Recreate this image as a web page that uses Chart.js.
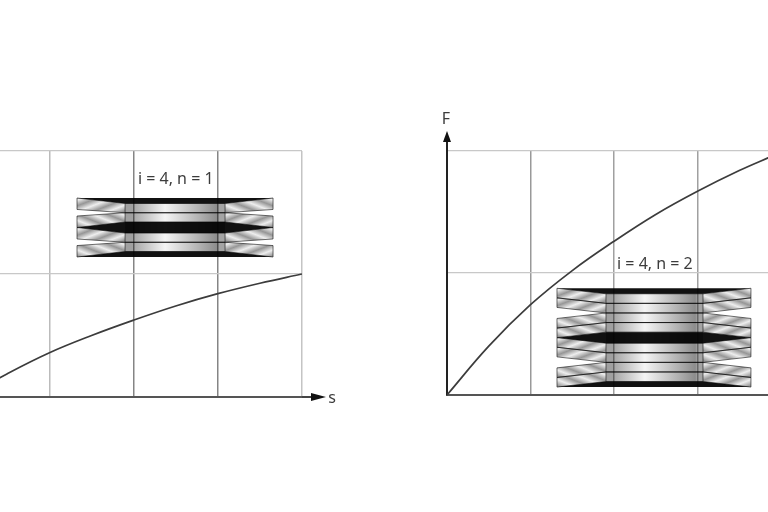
<!DOCTYPE html>
<html><head><meta charset="utf-8">
<script src="https://cdn.jsdelivr.net/npm/chart.js@4/dist/chart.umd.js"></script>
<style>
html,body{margin:0;padding:0;background:#fff;width:768px;height:512px;overflow:hidden}
canvas{position:absolute;filter:blur(0.6px)}
</style></head><body>
<div style="position:absolute;left:-50px;top:100px;width:420px;height:320px"><canvas id="a" style="left:0;top:0"></canvas></div>
<div style="position:absolute;left:400px;top:100px;width:400px;height:320px"><canvas id="b" style="left:0;top:0"></canvas></div>
<script>
const leftS  = [0, 0.5, 1, 1.5, 2, 2.5, 3, 3.5, 4];
const leftF  = [0, 0.19, 0.36, 0.5, 0.625, 0.74, 0.84, 0.925, 1];
const rightS = [0, 0.5, 1, 1.5, 2, 2.5, 3, 3.5, 3.9];
const rightF = [0, 0.4, 0.74, 1.02, 1.26, 1.48, 1.67, 1.84, 1.96];
const leftLabel = 'i = 4, n = 1';
const rightLabel = 'i = 4, n = 2';
const xAxisName = 's';
const yAxisName = 'F';

const FONT = '"Noto Sans", sans-serif';
const leftStack  = {n:1, x0:1.327, x1:3.656, h0:1.898, h1:3.086, y0:1.618, y1:1.138, rise:0.0447, flare:0.018};
const rightStack = {n:2, x0:1.317, x1:3.64, h0:1.904, h1:3.066, y0:0.875, y1:0.065, rise:0.0451, flare:0};

function stripes(ctx, x, y, dir){
  const L = 110, dx = 0.36*dir*L, dy = -0.93*L;
  const g = ctx.createLinearGradient(x, y+55, x+dx, y+55+dy);
  const N = 10;
  for(let i=0;i<N;i++){
    g.addColorStop(i/N, '#969696');
    g.addColorStop((i+0.5)/N, '#eeeeee');
  }
  g.addColorStop(1,'#969696');
  return g;
}
function poly(ctx, pts){
  ctx.beginPath();
  pts.forEach((p,i)=> i?ctx.lineTo(p[0],p[1]):ctx.moveTo(p[0],p[1]));
  ctx.closePath();
}
function drawStack(chart, cfg){
  const {ctx, scales:{x,y}} = chart;
  const X0=x.getPixelForValue(cfg.x0), X1=x.getPixelForValue(cfg.x1);
  const H0=x.getPixelForValue(cfg.h0), H1=x.getPixelForValue(cfg.h1);
  const T=y.getPixelForValue(cfg.y0), B=y.getPixelForValue(cfg.y1);
  const unit=y.getPixelForValue(0)-y.getPixelForValue(1);
  const c=cfg.rise*unit, e=cfg.flare*unit;
  const n=cfg.n, t=((B-T)/4-c)/n;
  ctx.save();
  ctx.globalCompositeOperation='multiply';
  const hub=ctx.createLinearGradient(H0,0,H1,0);
  hub.addColorStop(0,'#a0a0a0');hub.addColorStop(0.07,'#a0a0a0');hub.addColorStop(0.09,'#a8a8a8');
  hub.addColorStop(0.4,'#f4f4f4');hub.addColorStop(0.75,'#b0b0b0');hub.addColorStop(0.92,'#8c8c8c');hub.addColorStop(0.94,'#a4a4a4');hub.addColorStop(1,'#a4a4a4');
  ctx.fillStyle=hub;
  ctx.fillRect(H0,T+c,H1-H0,B-T-2*c);
  ctx.lineWidth=1;
  for(let k=0;k<4;k++){
    const base=T+k*(n*t+c);
    const slopeDown=k%2===0;
    for(let j=0;j<n;j++){
      const o=(slopeDown? base : base+c)+j*t;
      const h=(slopeDown? base+c : base)+j*t;
      const oTop=slopeDown? o : o-e, oBot=slopeDown? o+t+e : o+t;
      [[X0,H0,1],[X1,H1,-1]].forEach(([E,I,sd])=>{
        poly(ctx,[[E,oTop],[I,h],[I,h+t],[E,oBot]]);
        ctx.fillStyle=stripes(ctx,E,o,(slopeDown?-1:1)*sd);
        ctx.fill();
        ctx.strokeStyle='#707070';
        ctx.stroke();
      });
      ctx.strokeStyle='#555';
      ctx.beginPath();ctx.moveTo(H0,h);ctx.lineTo(H1,h);ctx.moveTo(H0,h+t);ctx.lineTo(H1,h+t);ctx.stroke();
    }
  }
  ctx.fillStyle='#111';
  poly(ctx,[[X0,T],[X1,T],[H1,T+c],[H0,T+c]]);ctx.fill();
  poly(ctx,[[X0,B],[X1,B],[H1,B-c],[H0,B-c]]);ctx.fill();
  const M=(T+B)/2;
  poly(ctx,[[X0,M],[H0,M-c],[H1,M-c],[X1,M],[H1,M+c],[H0,M+c]]);ctx.fill();
  ctx.restore();
}
function springPlugin(cfg, label, labelX, labelY){
  return {
    id:'spring',
    beforeDatasetsDraw(chart){
      drawStack(chart,cfg);
      const {ctx,scales:{x,y}}=chart;
      ctx.save();
      ctx.font='16px '+FONT;ctx.fillStyle='#3c3c3c';ctx.textAlign='center';ctx.textBaseline='middle';
      ctx.fillText(label,x.getPixelForValue(labelX),y.getPixelForValue(labelY));
      ctx.restore();
    }
  };
}
const arrowX={id:'arrowX',afterDraw(chart){
  const {ctx,chartArea:a}=chart;
  ctx.save();
  ctx.strokeStyle='#444';ctx.lineWidth=2;
  ctx.beginPath();ctx.moveTo(a.right,a.bottom);ctx.lineTo(a.right+10,a.bottom);ctx.stroke();
  ctx.fillStyle='#111';
  poly(ctx,[[a.right+9,a.bottom-4],[a.right+24,a.bottom],[a.right+9,a.bottom+4]]);ctx.fill();
  ctx.font='16px '+FONT;ctx.fillStyle='#3c3c3c';ctx.textAlign='center';ctx.textBaseline='middle';
  ctx.fillText(xAxisName,a.right+30,a.bottom+1);
  ctx.restore();
}};
const arrowY={id:'arrowY',afterDraw(chart){
  const {ctx,chartArea:a}=chart;
  ctx.save();
  ctx.strokeStyle='#222';ctx.lineWidth=2;
  ctx.beginPath();ctx.moveTo(a.left,a.top);ctx.lineTo(a.left,a.top-9);ctx.stroke();
  ctx.fillStyle='#111';
  poly(ctx,[[a.left-4,a.top-9],[a.left,a.top-20],[a.left+4,a.top-9]]);ctx.fill();
  ctx.font='16px '+FONT;ctx.fillStyle='#3c3c3c';ctx.textAlign='center';ctx.textBaseline='middle';
  ctx.fillText(yAxisName,a.left-1,a.top-32);
  ctx.restore();
}};
function make(id,w,h,S,F,pad,xColors,yBorder,plugins){
  const c=document.getElementById(id);
  c.width=w;c.height=h;c.style.width=w+'px';c.style.height=h+'px';
  return new Chart(c,{
    type:'line',
    data:{datasets:[{data:S.map((s,i)=>({x:s,y:F[i]})),borderColor:'#3c3c3c',borderWidth:1.7,pointRadius:0,tension:0.4,fill:false}]},
    options:{
      responsive:false,animation:false,
      layout:{padding:pad},
      plugins:{legend:{display:false},tooltip:{enabled:false},title:{display:false}},
      scales:{
        x:{type:'linear',min:0,max:4,
          ticks:{display:false,stepSize:1},
          grid:{drawTicks:false,lineWidth:1.5,color:ctx=>xColors[ctx.tick?ctx.tick.value:0]},
          border:{display:true,color:'#555',width:2}},
        y:{type:'linear',min:0,max:2,
          ticks:{display:false,stepSize:1},
          grid:{drawTicks:false,lineWidth:1.3,color:'#c8c8c8'},
          border:{display:yBorder,color:'#222',width:2}}
      }
    },
    plugins
  });
}
make('a',420,320,leftS,leftF,{left:15.3,right:68,top:51,bottom:23},
  ['#ccc','#bbb','#858585','#858585','#c4c4c4'],false,
  [springPlugin(leftStack,leftLabel,2.5,1.77),arrowX]);
make('b',400,320,rightS,rightF,{left:47,right:19,top:51,bottom:25},
  ['#333','#999','#a0a0a0','#a0a0a0','#ccc'],true,
  [springPlugin(rightStack,rightLabel,2.49,1.07),arrowY]);
</script>
</body></html>
